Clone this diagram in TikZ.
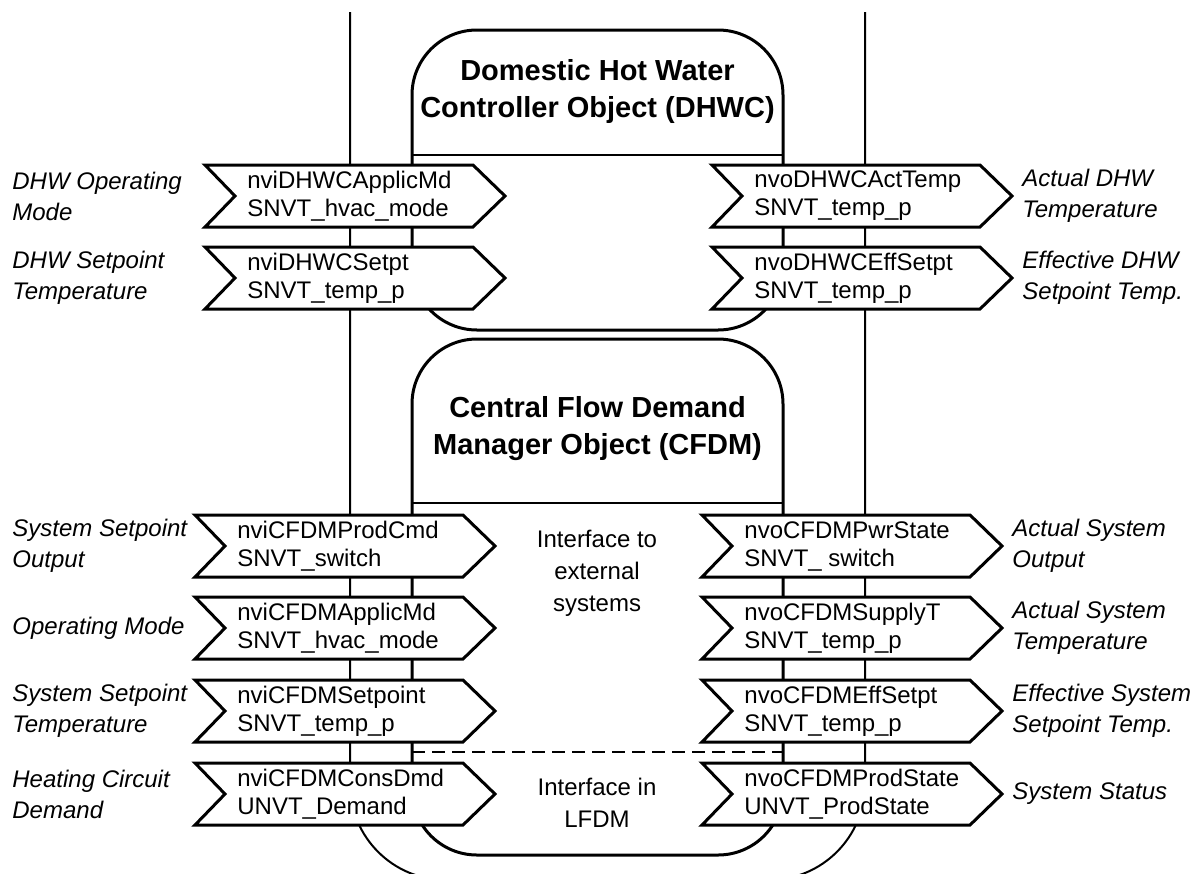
\documentclass[tikz,border=0pt]{standalone}
\usepackage{fontspec}
\setmainfont{Liberation Sans}

% one chevron pin: name, left x, top y, two text lines
\newcommand{\pin}[5]{%
  \draw[pinbox] (#2,#3) -- ++(268,0) -- ++(32,31) -- ++(-32,31) -- ++(-268,0) -- ++(30,-31) -- cycle;
  \node[pintext] (#1) at (#2+42,#3+31) {#4\\#5};}

\begin{document}
\begin{tikzpicture}[
    x=0.5pt, y=-0.5pt,
    pinbox/.style={draw, fill=white, line width=1.5pt},
    pintext/.style={anchor=west, align=left, inner sep=0pt, font=\fontsize{12}{14}\selectfont},
    sidetext/.style={anchor=west, align=left, inner sep=0pt, font=\fontsize{12}{15.5}\selectfont\itshape},
    objbox/.style={draw, line width=1.5pt, rounded corners=32.5pt},
    title/.style={align=center, font=\fontsize{14.5}{18.5}\selectfont\bfseries},
    midtext/.style={align=center, font=\fontsize{12}{16}\selectfont},
    wire/.style={line width=1pt}
    ]

    \useasboundingbox (0,0) rectangle (1199,873);
    \clip (0,0) rectangle (1199,873);

    % outer frame
    \draw[wire, rounded corners=48pt] (350,12) -- (350,880) -- (865,880) -- (865,12);

    % object boxes
    \draw[objbox] (412,30) rectangle (783,330);
    \draw[objbox] (412,339) rectangle (783,855);
    \draw[wire] (412,155) -- (783,155);
    \draw[wire] (412,503) -- (783,503);

    \coordinate (dl) at (412,752);
    \coordinate (dr) at (783,752);
    \draw[wire, dash pattern=on 6.5pt off 3.5pt] (dl) -- (dr);

    \node[title] (dhwc) at (597.5,91) {Domestic Hot Water\\Controller Object (DHWC)};
    \node[title] (cfdm) at (597.5,429) {Central Flow Demand\\Manager Object (CFDM)};
    \node[midtext] (ext) at (597,573) {Interface to\\external\\systems};
    \node[midtext] (lfdm) at (597,803) {Interface in\\LFDM};

    % inputs
    \pin{i1}{205}{165}{nviDHWCApplicMd}{SNVT\_hvac\_mode}
    \pin{i2}{205}{247}{nviDHWCSetpt}{SNVT\_temp\_p}
    \pin{i3}{195}{515}{nviCFDMProdCmd}{SNVT\_switch}
    \pin{i4}{195}{597}{nviCFDMApplicMd}{SNVT\_hvac\_mode}
    \pin{i5}{195}{680}{nviCFDMSetpoint}{SNVT\_temp\_p}
    \pin{i6}{195}{763}{nviCFDMConsDmd}{UNVT\_Demand}

    % outputs
    \pin{o1}{712}{165}{nvoDHWCActTemp}{SNVT\_temp\_p}
    \pin{o2}{712}{247}{nvoDHWCEffSetpt}{SNVT\_temp\_p}
    \pin{o3}{702}{515}{nvoCFDMPwrState}{SNVT\_ switch}
    \pin{o4}{702}{597}{nvoCFDMSupplyT}{SNVT\_temp\_p}
    \pin{o5}{702}{680}{nvoCFDMEffSetpt}{SNVT\_temp\_p}
    \pin{o6}{702}{763}{nvoCFDMProdState}{UNVT\_ProdState}

    \node[sidetext] (li1) at (12,196) {DHW Operating\\Mode};
    \node[sidetext] (li2) at (12,278) {DHW Setpoint\\Temperature};
    \node[sidetext] (li3) at (12,546) {System Setpoint\\Output};
    \node[sidetext] (li4) at (12,628) {Operating Mode};
    \node[sidetext] (li5) at (12,711) {System Setpoint\\Temperature};
    \node[sidetext] (li6) at (12,794) {Heating Circuit\\Demand};

    \node[sidetext] (lo1) at (1022,196) {Actual DHW\\Temperature};
    \node[sidetext] (lo2) at (1022,278) {Effective DHW\\Setpoint Temp.};
    \node[sidetext] (lo3) at (1012,546) {Actual System\\Output};
    \node[sidetext] (lo4) at (1012,628) {Actual System\\Temperature};
    \node[sidetext] (lo5) at (1012,711) {Effective System\\Setpoint Temp.};
    \node[sidetext] (lo6) at (1012,794) {System Status};

\end{tikzpicture}
\end{document}
